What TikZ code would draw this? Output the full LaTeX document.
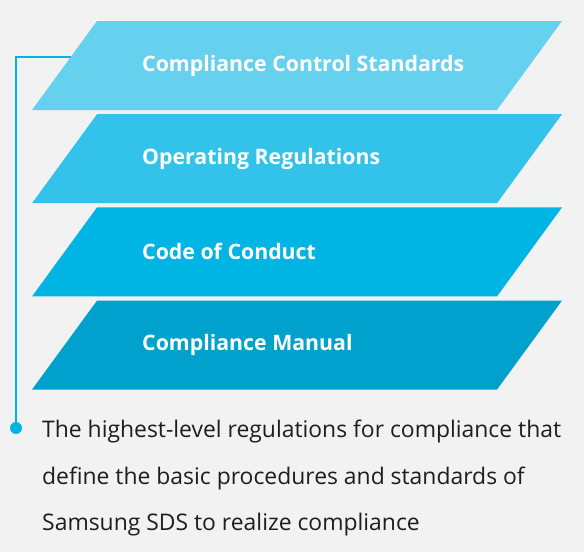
\documentclass[tikz,border=0pt]{standalone}
\usepackage{fontspec}
\setmainfont{Open Sans}
\definecolor{bgGray}{HTML}{F2F2F2}
\definecolor{layerA}{HTML}{66D1EE}
\definecolor{layerB}{HTML}{33C3EA}
\definecolor{layerC}{HTML}{00B4E3}
\definecolor{layerD}{HTML}{00A1CC}
\definecolor{lineBlue}{HTML}{00B4E3}
\definecolor{textGray}{HTML}{1E1E1E}
\tikzset{
  layertext/.style={anchor=west, inner sep=0pt, text=white, font=\fontsize{21.3}{24}\selectfont\bfseries},
  desctext/.style={anchor=base west, inner sep=0pt, text=textGray, font=\fontsize{22.9}{26}\selectfont},
  dot/.style={circle, fill=lineBlue, minimum size=12pt, inner sep=0pt},
  hookline/.style={draw=lineBlue, line width=1.5pt}
}
\begin{document}
\begin{tikzpicture}[x=1pt, y=-1pt]
    \useasboundingbox[fill=bgGray] (0,0) rectangle (584,552);

    % Layers
    \foreach \i/\col/\name/\txt in {0/layerA/standards/Compliance Control Standards,
                                    1/layerB/regulations/Operating Regulations,
                                    2/layerC/conduct/Code of Conduct,
                                    3/layerD/manual/Compliance Manual} {
        \fill[\col] (97,{21+93.2*\i}) -- (562,{21+93.2*\i}) -- (497,{110+93.2*\i}) -- (32,{110+93.2*\i}) -- cycle;
        \node[layertext] (\name) at (142,{65.5+93.2*\i}) {\txt};
    }

    % Connector
    \coordinate (hook) at (70.7,57);
    \node[dot] (tip) at (16,428) {};
    \draw[hookline] (hook) -| (tip);

    % Description
    \node[desctext] (desc1) at (42,437.5) {The highest-level regulations for compliance that};
    \node[desctext] (desc2) at (42,484) {define the basic procedures and standards of};
    \node[desctext] (desc3) at (42,530) {Samsung SDS to realize compliance};
\end{tikzpicture}
\end{document}
